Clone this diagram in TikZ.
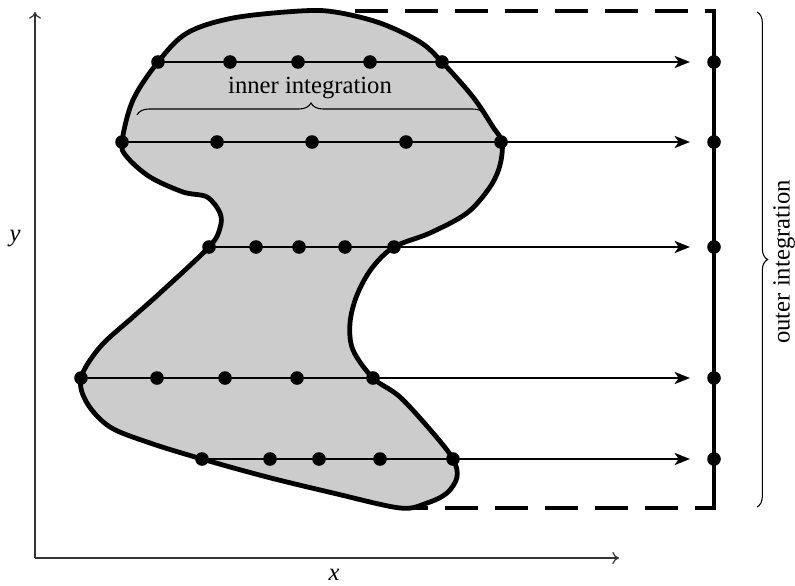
\documentclass[tikz,border=0pt]{standalone}
\usepackage{fontspec}
\setmainfont{Liberation Serif}
\usetikzlibrary{arrows.meta,decorations.pathreplacing}
\begin{document}
\begin{tikzpicture}[x=0.75pt,y=-0.75pt,
 dot/.style={circle,fill=black,inner sep=0pt,minimum size=10.2pt},
 ray/.style={line width=1.9pt,-{Stealth[length=11.5pt,width=9pt,inset=3pt]}},
 blob/.style={fill=black!20,draw=black,line width=3.6pt,line join=round},
 frame/.style={line width=2.5pt},
 dashframe/.style={line width=2.5pt,dash pattern=on 25pt off 12.5pt},
 axis/.style={line width=0.9pt,draw=black!80,-{To[length=5pt,width=9pt]}},
 bracestyle/.style={decorate,decoration={brace,amplitude=#1},line width=0.8pt},
 lbl/.style={font=\fontsize{18.5}{22}\selectfont,inner sep=0pt}]
\useasboundingbox (0,0) rectangle (795,585);
% frame
\coordinate (tl) at (355,11);
\coordinate (tr) at (714,11);
\coordinate (br) at (714,508);
\coordinate (bl) at (395,508);
\draw[dashframe] (tl) -- (tr);
\draw[dashframe] (bl) -- (br);
\draw[frame,line cap=rect] (tr) -- (br);
% region
\filldraw[blob] plot[smooth cycle, tension=0.55] coordinates {
 (133,100) (158,62) (187,33) (233,18) (300,11) (335,12) (380,23) (420,42)
 (442,62) (473,97) (493,127) (502,142) (500,165) (490,187) (467,213)
 (430,233) (394,247) (372,268) (357,295) (350,323) (353,350) (373,378)
 (400,397) (433,433) (453,459) (457,477) (447,493) (427,503) (400,508)
 (333,493) (267,477) (202,459) (150,443) (110,427) (87,403) (81,378)
 (100,347) (133,317) (160,293) (209,247) (220,228) (220,213) (207,197)
 (183,192) (150,177) (127,157) (122,142)};
% rows
\foreach \r/\yy/\xs in {1/62/{158,230,298,370,442},
                        2/142/{122,217,312,406,501},
                        3/247/{209,256,299,345,394},
                        4/378/{81,157,225,297,373},
                        5/459/{202,270,319,380,453}}{
  \foreach \xx [count=\k] in \xs {
    \node[dot] (r\r-\k) at (\xx,\yy) {};
  }
  \coordinate (t\r) at (690,\yy);
  \node[dot] (e\r) at (714,\yy) {};
  \draw[ray] (r\r-1.center) -- (t\r);
}
% braces
\coordinate (ib1) at (137,115);
\coordinate (ib2) at (485,115);
\draw[bracestyle=9pt] (ib1) -- (ib2);
\node[lbl] (inner) at (310,88) {inner integration};
\coordinate (ob1) at (757,12);
\coordinate (ob2) at (757,507);
\draw[bracestyle=8pt] (ob1) -- (ob2);
\node[lbl,rotate=90] (outer) at (784,262) {outer integration};
% axes
\coordinate (o) at (35,558);
\coordinate (xe) at (619,558);
\coordinate (ye) at (35,12);
\draw[axis] (o) -- (xe);
\draw[axis] (o) -- (ye);
\node[lbl] (xl) at (334,575) {\textit{x}};
\node[lbl] (yl) at (15,238) {\textit{y}};
\end{tikzpicture}
\end{document}
